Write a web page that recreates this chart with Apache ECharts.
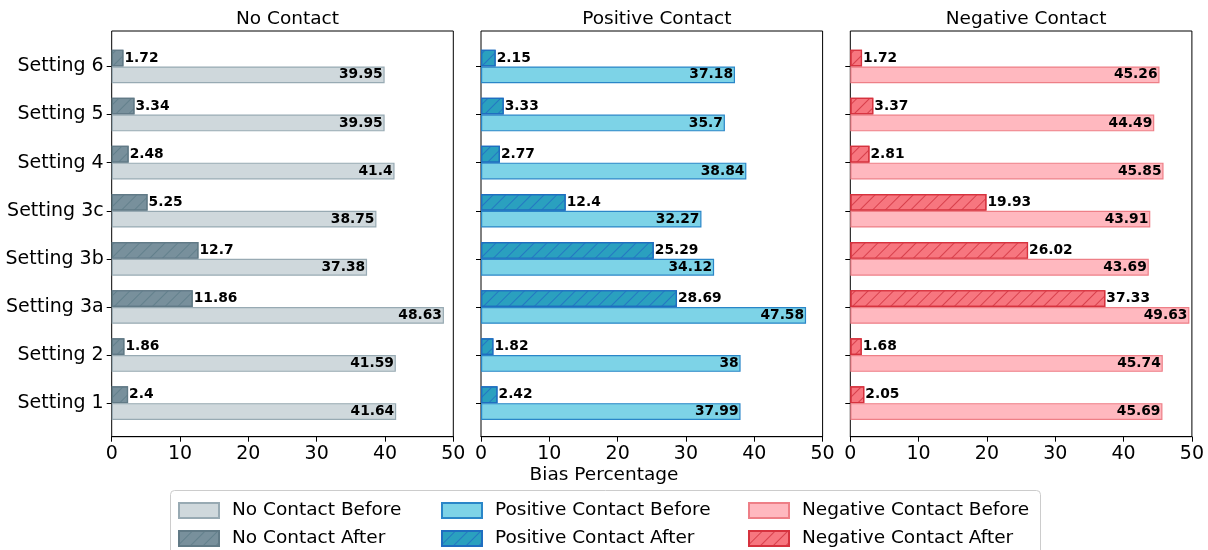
<!DOCTYPE html>
<html><head><meta charset="utf-8">
<script src="https://cdn.jsdelivr.net/npm/echarts@6/dist/echarts.min.js"></script>
<style>html,body{margin:0;padding:0;background:#fff}#c{width:1208px;height:550px}</style>
</head><body><div id="c"></div>
<script>
const categories = ['Setting 1','Setting 2','Setting 3a','Setting 3b','Setting 3c','Setting 4','Setting 5','Setting 6'];
const panelTitles = ['No Contact','Positive Contact','Negative Contact'];
const xTicks = [0,10,20,30,40,50];
const noContactBefore = [41.64,41.59,48.63,37.38,38.75,41.4,39.95,39.95];
const noContactAfter  = [2.4,1.86,11.86,12.7,5.25,2.48,3.34,1.72];
const posContactBefore = [37.99,38,47.58,34.12,32.27,38.84,35.7,37.18];
const posContactAfter  = [2.42,1.82,28.69,25.29,12.4,2.77,3.33,2.15];
const negContactBefore = [45.69,45.74,49.63,43.69,43.91,45.85,44.49,45.26];
const negContactAfter  = [2.05,1.68,37.33,26.02,19.93,2.81,3.37,1.72];
const xLabel = 'Bias Percentage';

const FONT = 'DejaVu Sans';
const panelLeft = [111.7, 481, 850.3];
const panelW = 341.6;
const styles = [
  {before:{fill:'#CFD8DC',stroke:'#98AAB3'}, after:{fill:'#78909C',stroke:'#617A86',hatch:'#62808C'}},
  {before:{fill:'#7DD3E7',stroke:'#2A86C8'}, after:{fill:'#2AA0BF',stroke:'#1F6EC0',hatch:'#2477C2'}},
  {before:{fill:'#FFB8BF',stroke:'#EE7F87'}, after:{fill:'#F7767F',stroke:'#D6323E',hatch:'#D8404C'}}
];
const dataSets = [
  [noContactBefore, noContactAfter],
  [posContactBefore, posContactAfter],
  [negContactBefore, negContactAfter]
];
const names = [
  ['No Contact Before','No Contact After'],
  ['Positive Contact Before','Positive Contact After'],
  ['Negative Contact Before','Negative Contact After']
];

const grid = [], xAxis = [], yAxis = [], series = [], title = [], legend = [];
const legendLeft = [178, 441, 748];
const legendTop = [501, 529];
const ticks = Math.max.apply(null, xTicks);
for (let p = 0; p < 3; p++) {
  const L = panelLeft[p];
  grid.push({left:L, width:panelW, top:31, height:405.7, show:true, borderColor:'#000', borderWidth:1, backgroundColor:'transparent'});
  grid.push({left:L, width:panelW, top:42.4, height:384.8});
  xAxis.push({gridIndex:2*p, type:'value', min:xTicks[0], max:ticks, interval:xTicks[1]-xTicks[0],
    axisLine:{show:true, lineStyle:{color:'#000', width:1}},
    axisTick:{show:true, length:5, lineStyle:{color:'#000'}},
    axisLabel:{fontFamily:FONT, fontSize:19, color:'#000', margin:8},
    splitLine:{show:false}});
  yAxis.push({gridIndex:2*p, type:'value', show:false, min:0, max:1});
  xAxis.push({gridIndex:2*p+1, type:'value', min:xTicks[0], max:ticks, show:false, splitLine:{show:false}});
  yAxis.push({gridIndex:2*p+1, type:'category', data:categories,
    axisLine:{show:false},
    axisTick:{show:true, alignWithLabel:true, length:5, lineStyle:{color:'#000'}},
    axisLabel:{show:p===0, fontFamily:FONT, fontSize:19, color:'#000', margin:8}});
  title.push({text:panelTitles[p], left:L + panelW/2, top:5, textAlign:'center',
    textStyle:{fontFamily:FONT, fontSize:18.5, fontWeight:'normal', color:'#000'}});
  const st = styles[p];
  const decal = {symbol:'rect', symbolSize:1, dashArrayX:[1,0], dashArrayY:[1,8], rotation:-Math.PI/4, color:st.after.hatch};
  series.push({
    name:names[p][1], type:'bar', xAxisIndex:2*p+1, yAxisIndex:2*p+1,
    data:dataSets[p][1], barWidth:16.8, barGap:'0%',
    itemStyle:{color:st.after.fill, borderColor:st.after.stroke, borderWidth:1.2, decal:decal},
    label:{show:true, position:'right', distance:1, fontFamily:FONT, fontSize:13.8, fontWeight:'bold', color:'#000'},
    animation:false
  });
  series.push({
    name:names[p][0], type:'bar', xAxisIndex:2*p+1, yAxisIndex:2*p+1,
    data:dataSets[p][0], barWidth:16.8, barGap:'0%',
    itemStyle:{color:st.before.fill, borderColor:st.before.stroke, borderWidth:1.2},
    label:{show:true, position:'insideRight', distance:2, fontFamily:FONT, fontSize:13.8, fontWeight:'bold', color:'#000'},
    animation:false
  });
  for (let r = 0; r < 2; r++) {
    legend.push({left:legendLeft[p], top:legendTop[r], itemWidth:40, itemHeight:15, padding:0,
      icon:'rect', data:[names[p][r]],
      textStyle:{fontFamily:FONT, fontSize:18.5, color:'#000', padding:[0,0,0,8]}, selectedMode:false});
  }
}

const chart = echarts.init(document.getElementById('c'), null, {renderer:'canvas'});
chart.setOption({
  animation:false,
  title, grid, xAxis, yAxis, series, legend,
  graphic:[
    {type:'rect', z:-1, shape:{x:170.5, y:490.5, width:870, height:70, r:4}, style:{fill:'#fff', stroke:'#cccccc', lineWidth:1}},
    {type:'text', left:'center', top:466, style:{text:xLabel, fontFamily:FONT, fontSize:18.5, fill:'#000'}}
  ]
});
</script></body></html>
